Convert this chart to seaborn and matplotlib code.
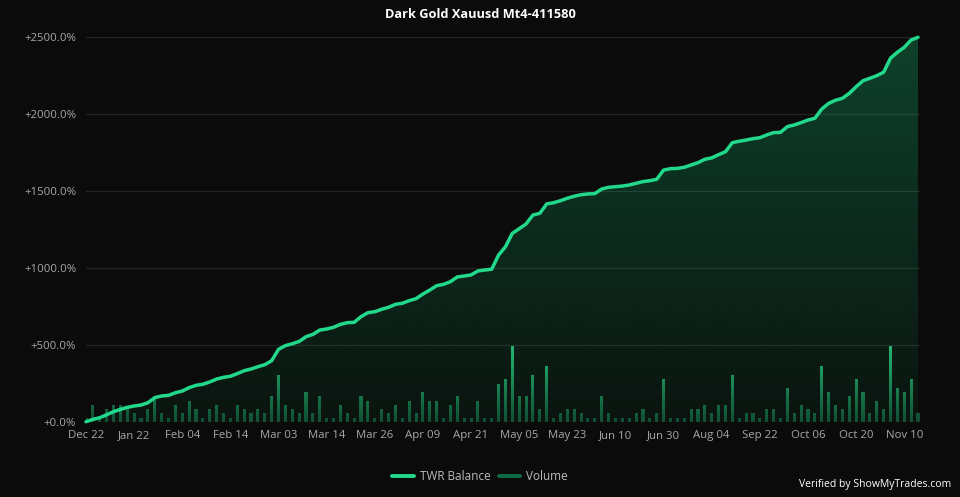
import numpy as np
import pandas as pd
import matplotlib
matplotlib.use("Agg")
import matplotlib.pyplot as plt
import seaborn as sns
from matplotlib.path import Path
from matplotlib.lines import Line2D

# ---------------- data ----------------
title = "Dark Gold Xauusd Mt4-411580"
tick_labels = ["Dec 22", "Jan 22", "Feb 04", "Feb 14", "Mar 03", "Mar 14", "Mar 26",
               "Apr 09", "Apr 21", "May 05", "May 23", "Jun 10", "Jun 30", "Aug 04",
               "Sep 22", "Oct 06", "Oct 20", "Nov 10"]
tick_step = 7  # one label every 7 points

twr_balance = [
    2, 17, 28, 47, 67, 82, 95, 104, 110, 125,
    158, 169, 173, 190, 201, 223, 238, 245, 260, 279,
    290, 297, 314, 333, 344, 359, 372, 398, 472, 496,
    508, 523, 554, 569, 597, 604, 615, 634, 645, 647,
    684, 710, 716, 732, 745, 764, 771, 788, 801, 831,
    857, 885, 894, 911, 942, 948, 955, 981, 987, 992,
    1084, 1138, 1225, 1255, 1286, 1344, 1355, 1416, 1424, 1437,
    1453, 1466, 1476, 1481, 1483, 1513, 1524, 1528, 1532, 1539,
    1550, 1561, 1567, 1576, 1636, 1645, 1647, 1654, 1669, 1684,
    1706, 1715, 1736, 1755, 1814, 1823, 1831, 1840, 1846, 1864,
    1879, 1881, 1918, 1929, 1944, 1961, 1972, 2032, 2069, 2089,
    2102, 2134, 2177, 2216, 2232, 2249, 2271, 2362, 2401, 2433,
    2481, 2498,
]

volume = [
    1, 4, 1, 3, 4, 4, 3, 2, 1, 3,
    6, 2, 1, 4, 2, 5, 3, 1, 3, 4,
    2, 1, 4, 3, 2, 3, 2, 6, 11, 4,
    3, 2, 7, 2, 6, 1, 1, 4, 2, 1,
    6, 5, 1, 3, 2, 4, 1, 5, 2, 7,
    5, 5, 1, 4, 6, 1, 1, 5, 1, 1,
    9, 10, 18, 6, 6, 11, 3, 13, 1, 2,
    3, 3, 2, 1, 1, 6, 2, 1, 1, 1,
    2, 3, 1, 2, 10, 1, 1, 1, 3, 3,
    4, 2, 4, 4, 11, 1, 2, 2, 1, 3,
    3, 1, 8, 2, 4, 3, 2, 13, 7, 4,
    3, 6, 10, 7, 2, 5, 3, 18, 8, 7,
    10, 2,
]

# ---------------- style ----------------
BG = "#0b0b0b"
LINE = "#22d98b"
GRID = "#242424"
TICK = "#a8a8a8"

sns.set_theme(style="dark")
plt.rcParams['font.family'] = ['Open Sans', 'DejaVu Sans']

df = pd.DataFrame({"idx": np.arange(len(twr_balance)), "twr": twr_balance, "vol": volume})

W, H = 960, 497
fig = plt.figure(figsize=(W / 100, H / 100), dpi=100, facecolor=BG)

slot_px = 6.876
x_max = 121.3
left_px, bottom_px, top_px = 86, 422, 37
ax2 = fig.add_axes([left_px / W, 1 - bottom_px / H, x_max * slot_px / W, (bottom_px - top_px) / H])
ax2.set_facecolor(BG)
ax = ax2.twinx()
ax.set_zorder(ax2.get_zorder() + 1)
ax.patch.set_visible(False)

# ---- volume bars (secondary scale) ----
sns.barplot(data=df, x="idx", y="vol", native_scale=True, width=0.45, ax=ax2,
            color="#139b62", edgecolor="none", linewidth=0)
bar_paths = [p.get_path().transformed(p.get_patch_transform()) for p in ax2.patches]
for p in ax2.patches:
    p.set_alpha(0)
comp = Path.make_compound_path(*bar_paths)
vmax_axis = 90
gy = np.linspace(0, 1, 256)
bot = np.array([16, 74, 48]) / 255
top = np.array([38, 185, 114]) / 255
grad_bar = np.zeros((256, 1, 4))
for k in range(3):
    grad_bar[:, 0, k] = bot[k] + (top[k] - bot[k]) * gy
grad_bar[:, 0, 3] = 1.0
im_b = ax2.imshow(grad_bar, extent=[0, x_max, 0, 18], origin="lower", aspect="auto",
                  interpolation="bilinear", zorder=2)
im_b.set_clip_path(comp, ax2.transData)
ax2.set_xlim(0, x_max)
ax2.set_ylim(0, vmax_axis)
ax2.set_yticks([])
ax2.set_ylabel("")
ax2.set_xlabel("")

# ---- TWR balance area + line ----
fb = ax.fill_between(df["idx"], df["twr"], 0, color="none", linewidth=0)
area_path = fb.get_paths()[0]
fc = np.array([20, 200, 120]) / 255
grad_fill = np.zeros((256, 1, 4))
grad_fill[:, 0, :3] = fc
grad_fill[:, 0, 3] = 0.05 + 0.24 * gy
im_f = ax.imshow(grad_fill, extent=[0, x_max, 0, 2500], origin="lower", aspect="auto",
                 interpolation="bilinear", zorder=1)
im_f.set_clip_path(area_path, ax.transData)

sns.lineplot(data=df, x="idx", y="twr", ax=ax, color=LINE, linewidth=2.5, zorder=3,
             estimator=None, sort=False)
for ln in ax.lines:
    ln.set_solid_capstyle("round")
    ln.set_solid_joinstyle("round")
    ln.set_clip_on(False)

ax.set_ylim(0, 2500)
ax.yaxis.tick_left()
ax.yaxis.set_label_position("left")
yt = [0, 500, 1000, 1500, 2000, 2500]
ax.set_yticks(yt)
ax.set_yticklabels([f"+{v:.1f}%" for v in yt])
ax.set_xlabel("")
ax.set_ylabel("")

ax2.set_xlim(0, x_max)
ax2.set_xticks(np.arange(0, len(twr_balance), tick_step))
ax2.set_xticklabels(tick_labels)

for a in (ax, ax2):
    for s in a.spines.values():
        s.set_visible(False)
    a.tick_params(axis="both", length=0, colors=TICK, labelsize=8.2)
    a.grid(False)
ax.tick_params(axis="y", pad=7)
ax2.tick_params(axis="x", pad=6, labelbottom=True)
for v in yt:
    ax.axhline(v, color=GRID, linewidth=0.9, zorder=0)

# ---- title, legend, footer ----
fig.text(0.5, 1 - 14 / H, title, ha="center", va="center", color="white",
         fontsize=9.2, fontweight="bold")
handles = [Line2D([0], [0], color=LINE, lw=2.8),
           Line2D([0], [0], color="#0f6b45", lw=2.8)]
fig.legend(handles, ["TWR Balance", "Volume"], loc="center", bbox_to_anchor=(0.5, 1 - 477 / H),
           ncol=2, frameon=False, labelcolor="#bdbdbd", fontsize=8.5, handlelength=1.8,
           handletextpad=0.5, columnspacing=0.7)
fig.text(951 / W, 1 - 485 / H, "Verified by ShowMyTrades.com", ha="right", va="center",
         color="white", fontsize=7.5)

fig.savefig("out.png", dpi=100, facecolor=BG)
